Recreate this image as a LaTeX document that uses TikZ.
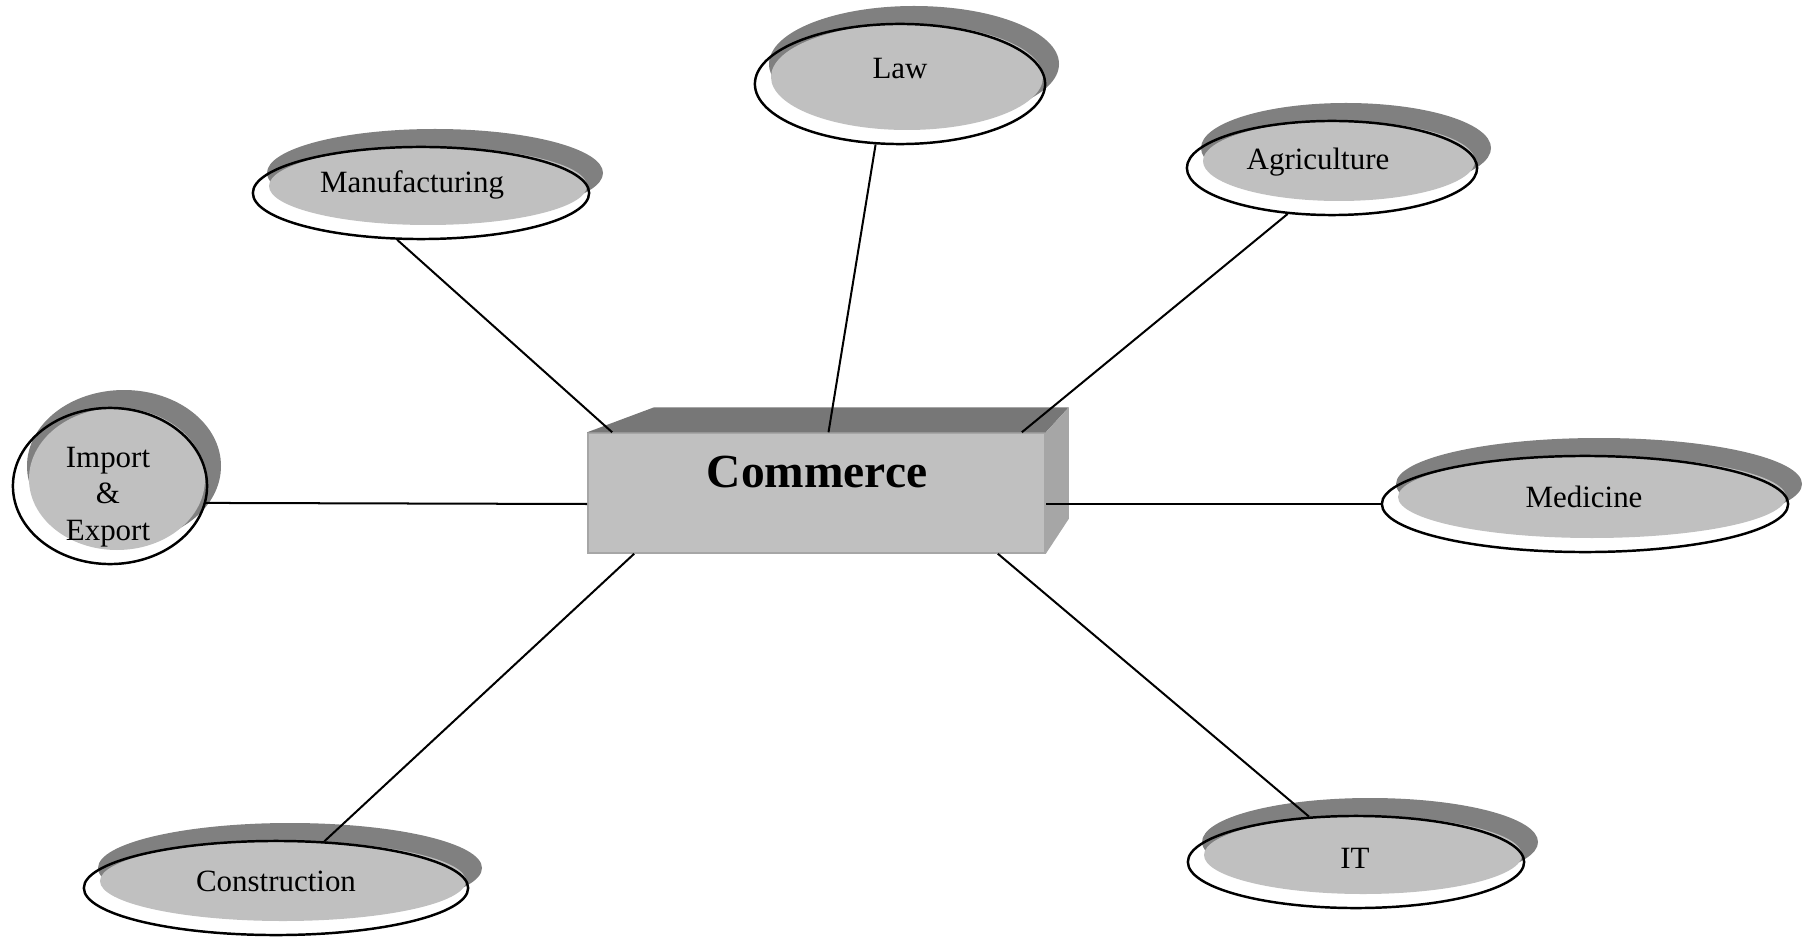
\documentclass[tikz,border=0pt]{standalone}
\usepackage{fontspec}
\setmainfont{Liberation Serif}
\usetikzlibrary{shapes.geometric,calc}
\definecolor{shadowgrey}{HTML}{808080}
\definecolor{fillgrey}{HTML}{C0C0C0}
\definecolor{topgrey}{HTML}{777777}
\definecolor{sidegrey}{HTML}{A6A6A6}
\begin{document}
\begin{tikzpicture}[x=0.01cm, y=-0.01cm,
    topic/.style={ellipse, draw, line width=0.7pt, inner sep=0pt},
    label/.style={font=\fontsize{8.8}{10.4}\selectfont, align=center},
    box/.style={rectangle, fill=fillgrey, draw=sidegrey, line width=0.4pt,
        minimum width=4.57cm, minimum height=1.2cm, inner sep=0pt},
    link/.style={line width=0.57pt}]
    \useasboundingbox (0,0) rectangle (1813,937);
    % topics: shadow, fill, outline
    \foreach \nm/\x/\y/\rx/\ry in {manu/421/193/168/46, law/900/84/145/60,
        agri/1332/168/145/47, imex/110/486/97/78, medi/1585/504/203/48,
        cons/276/888/192/47, it/1356/862/168/46} {
        \fill[shadowgrey] (\x+14,\y-20) ellipse [x radius=\rx, y radius=\ry-2];
        \fill[fillgrey] (\x+7,\y-7) ellipse [x radius=\rx-9, y radius=\ry-7];
        \node[topic, minimum width=\rx*0.02cm, minimum height=\ry*0.02cm] (\nm) at (\x,\y) {};
    }
    \node[label] (manu-l) at (412,185) {Manufacturing};
    \node[label] (law-l) at (900,69) {Law};
    \node[label] (agri-l) at (1318,162) {Agriculture};
    \node[label] (imex-l) at (108,497) {Import\\\&\\Export};
    \node[label] (medi-l) at (1584,497) {Medicine};
    \node[label] (cons-l) at (276,881) {Construction};
    \node[label] (it-l) at (1355,858) {IT};
    % centre block
    \node[box] (comm) at (816.5,493) {};
    \fill[topgrey] (comm.north west) -- ($(comm.north west)+(67,-25)$)
        -- ($(comm.north east)+(23,-25)$) -- (comm.north east) -- cycle;
    \fill[sidegrey] (comm.north east) -- ($(comm.north east)+(23,-25)$)
        -- ($(comm.south east)+(23,-35)$) -- (comm.south east) -- cycle;
    \node[font=\fontsize{13.5}{16}\selectfont\bfseries] (comm-l) at (817,472) {Commerce};
    % links
    \draw[link] (manu.243) -- ($(comm.north west)+(25,0)$);
    \draw[link] (law.248) -- ($(comm.north)+(12,0)$);
    \draw[link] (agri.226) -- ($(comm.north east)+(-24,0)$);
    \draw[link] (imex.-10) -- ($(comm.west)+(0,11)$);
    \draw[link] (medi.west) -- ($(comm.east)+(0,11)$);
    \draw[link] (cons.44) -- ($(comm.south west)+(47,0)$);
    \draw[link] (it.136) -- ($(comm.south east)+(-48,0)$);
\end{tikzpicture}
\end{document}
